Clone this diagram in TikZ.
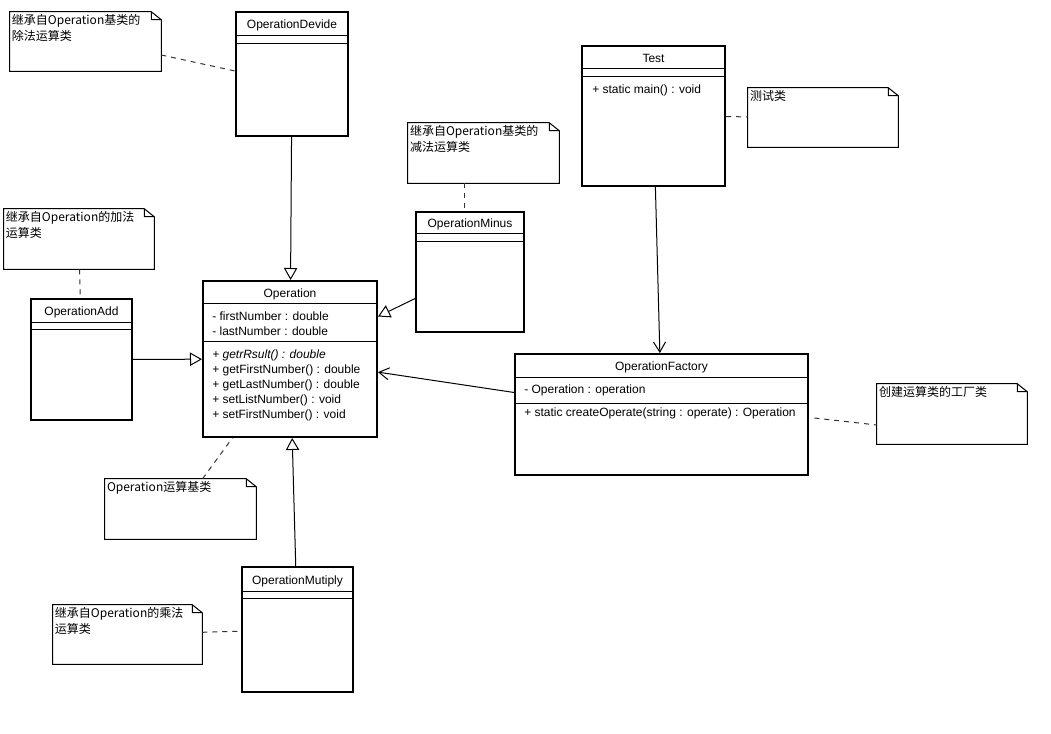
\documentclass[tikz,border=0pt]{standalone}
\usepackage{fontspec}
\setmainfont{Liberation Sans}
\newfontfamily\cjkfont{Noto Sans CJK SC}
\usetikzlibrary{arrows.meta,fit}

% outline of a UML note with a folded corner
\newcommand{\drawnote}[1]{%
  \draw[noteedge] (#1.north west) -- ([xshift=-7.5pt]#1.north east)
    -- ([yshift=-6pt]#1.north east) -- (#1.south east) -- (#1.south west) -- cycle
    ([xshift=-7.5pt]#1.north east) |- ([yshift=-6pt]#1.north east);}

\begin{document}
\begin{tikzpicture}[x=0.75pt,y=-0.75pt,font=\fontsize{9}{11}\selectfont,
  classbox/.style={draw,line width=1.5pt,inner sep=0},
  divider/.style={line width=0.75pt},
  notebox/.style={inner sep=0},
  noteedge/.style={line width=0.75pt},
  classname/.style={inner sep=0,text height=7pt,text depth=2pt},
  member/.style={anchor=west,inner sep=0,text height=7pt,text depth=2pt},
  notetext/.style={anchor=north west,inner sep=1.5pt,align=left,font=\cjkfont\fontsize{9}{12}\selectfont},
  inherit/.style={-{Triangle[open,length=9pt,width=10pt]},line width=0.75pt},
  assoc/.style={-{Straight Barb[length=7.5pt,width=9pt]},line width=0.75pt},
  noteline/.style={black!80,dash pattern=on 3.75pt off 3.75pt,line width=0.75pt}]
\path[fill=white,use as bounding box] (0,0) rectangle (1051,734);

% classes
\node[classbox,fit={(236,12)(348,136)}] (devide) {};
\node[classname] (devideT) at (292,25) {OperationDevide};
\draw[divider] (devide.west |- 0,36) -- (devide.east |- 0,36);
\draw[divider] (devide.west |- 0,44) -- (devide.east |- 0,44);

\node[classbox,fit={(582,46)(725,186)}] (test) {};
\node[classname] (testT) at (653.5,59) {Test};
\draw[divider] (test.west |- 0,69) -- (test.east |- 0,69);
\draw[divider] (test.west |- 0,77) -- (test.east |- 0,77);
\node[member] (testM) at (592,90) {+ static main() : void};

\node[classbox,fit={(416,212)(524,332)}] (minus) {};
\node[classname] (minusT) at (470,224) {OperationMinus};
\draw[divider] (minus.west |- 0,234) -- (minus.east |- 0,234);
\draw[divider] (minus.west |- 0,242) -- (minus.east |- 0,242);

\node[classbox,fit={(203,281)(377,437)}] (op) {};
\node[classname] (opT) at (290,294) {Operation};
\draw[divider] (op.west |- 0,304) -- (op.east |- 0,304);
\draw[divider] (op.west |- 0,342) -- (op.east |- 0,342);
\node[member] (opA1) at (212,317) {- firstNumber : double};
\node[member] (opA2) at (212,332) {- lastNumber : double};
\node[member] (opM1) at (212,355) {\itshape + getrRsult() : double};
\node[member] (opM2) at (212,370) {+ getFirstNumber() : double};
\node[member] (opM3) at (212,385) {+ getLastNumber() : double};
\node[member] (opM4) at (212,400) {+ setListNumber() : void};
\node[member] (opM5) at (212,415) {+ setFirstNumber() : void};

\node[classbox,fit={(31,299)(132,420)}] (add) {};
\node[classname] (addT) at (81.5,312) {OperationAdd};
\draw[divider] (add.west |- 0,323) -- (add.east |- 0,323);
\draw[divider] (add.west |- 0,330) -- (add.east |- 0,330);

\node[classbox,fit={(515,354)(808,475)}] (fac) {};
\node[classname] (facT) at (661.5,367) {OperationFactory};
\draw[divider] (fac.west |- 0,378) -- (fac.east |- 0,378);
\draw[divider] (fac.west |- 0,404) -- (fac.east |- 0,404);
\node[member] (facA) at (524,390) {- Operation : operation};
\node[member] (facM) at (524,413) {+ static createOperate(string : operate) : Operation};

\node[classbox,fit={(242,567)(353,692)}] (mul) {};
\node[classname] (mulT) at (297.5,581) {OperationMutiply};
\draw[divider] (mul.west |- 0,592) -- (mul.east |- 0,592);
\draw[divider] (mul.west |- 0,599) -- (mul.east |- 0,599);

% notes
\node[notebox,fit={(10,12)(161,71)}] (nDev) {};
\drawnote{nDev}
\node[notetext] (nDevT) at (nDev.north west) {继承自Operation基类的\\除法运算类};

\node[notebox,fit={(748,88)(898,147)}] (nTest) {};
\drawnote{nTest}
\node[notetext] (nTestT) at (nTest.north west) {测试类};

\node[notebox,fit={(408,123)(559,183)}] (nMinus) {};
\drawnote{nMinus}
\node[notetext] (nMinusT) at (nMinus.north west) {继承自Operation基类的\\减法运算类};

\node[notebox,fit={(4,209)(154,269)}] (nAdd) {};
\drawnote{nAdd}
\node[notetext] (nAddT) at (nAdd.north west) {继承自Operation的加法\\运算类};

\node[notebox,fit={(877,384)(1027,444)}] (nFac) {};
\drawnote{nFac}
\node[notetext] (nFacT) at (nFac.north west) {创建运算类的工厂类};

\node[notebox,fit={(105,479)(256,539)}] (nBase) {};
\drawnote{nBase}
\node[notetext] (nBaseT) at (nBase.north west) {Operation运算基类};

\node[notebox,fit={(53,605)(202,664)}] (nMul) {};
\drawnote{nMul}
\node[notetext] (nMulT) at (nMul.north west) {继承自Operation的乘法\\运算类};

% connectors
\draw[inherit] (devide) -- (op);
\draw[inherit] (minus) -- (op);
\draw[inherit] (add) -- (op);
\draw[inherit] (mul) -- (op);
\draw[assoc] (fac) -- (op);
\draw[assoc] (test) -- (fac);

\draw[noteline] (nDev.east |- 0,55) -- (devide.west |- 0,71);
\draw[noteline] (test) -- (nTest);
\draw[noteline] (nMinus.south -| 464,0) -- (minus.north -| 464,0);
\draw[noteline] (nAdd) -- (add);
\draw[noteline] (nBase) -- (op);
\draw[noteline] (nMul) -- (mul);
\draw[noteline] ([xshift=4pt]fac.east |- 0,418) -- (nFac.west |- 0,425);
\end{tikzpicture}
\end{document}
